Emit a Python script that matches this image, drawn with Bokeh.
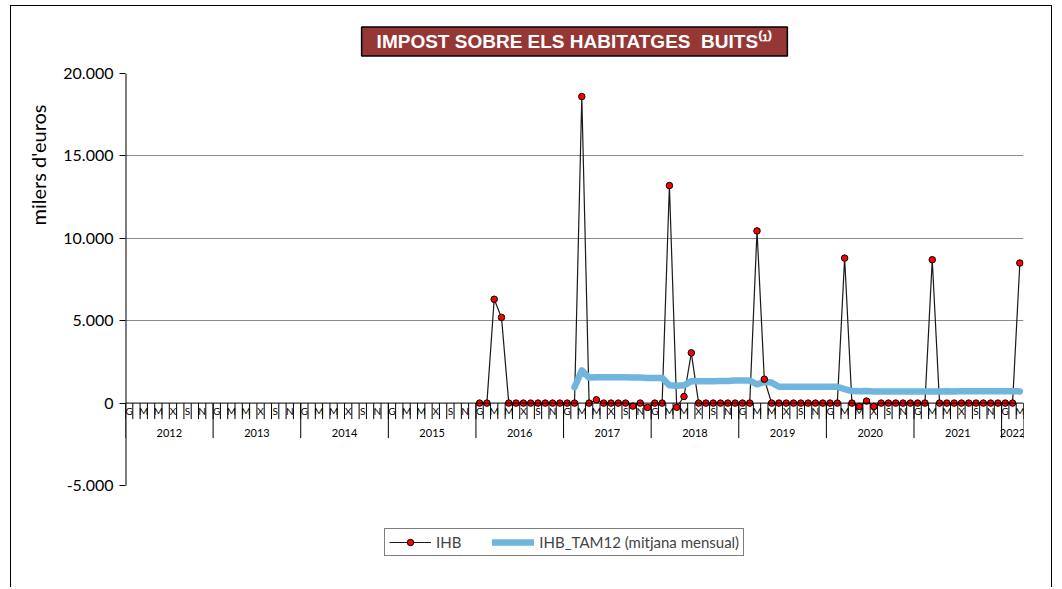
import math
from bokeh.plotting import figure
from bokeh.models import Range1d, FixedTicker, Legend, LegendItem, Span, Title
from bokeh.embed import file_html
from bokeh.resources import INLINE
from bokeh.core.properties import value

# ---------------- data ----------------
years = ["2012", "2013", "2014", "2015", "2016", "2017", "2018", "2019", "2020", "2021", "2022"]
months_last_year = 3                      # the 2022 series ends in March
month_letters = ["G", "M", "M", "X", "S", "N"]   # labels on Jan, Mar, May, Jul, Sep, Nov

ihb_first_month = 48                      # January 2016
ihb = [
    0, 0, 6300, 5200, 0, 0, 0, 0, 0, 0, 0, 0,            # 2016
    0, 0, 18600, 0, 200, 0, 0, 0, 0, -180, 0, -260,      # 2017
    0, 0, 13200, -250, 400, 3050, 0, 0, 0, 0, 0, 0,      # 2018
    0, 0, 10450, 1450, 0, 0, 0, 0, 0, 0, 0, 0,           # 2019
    0, 0, 8800, 0, -200, 120, -200, 0, 0, 0, 0, 0,       # 2020
    0, 0, 8700, 0, 0, 0, 0, 0, 0, 0, 0, 0,               # 2021
    0, 0, 8500,                                           # 2022
]

tam_first_month = 61                      # February 2017
tam12 = [
    958,                                                  # Feb 2017
    1983, 1550, 1567, 1567, 1567, 1567, 1567, 1552, 1552, 1530,   # Mar-Dec 2017
    1530, 1530, 1080, 1059, 1076, 1330, 1330, 1330, 1330, 1345, 1345, 1367,  # 2018
    1367, 1367, 1138, 1279, 1246, 992, 992, 992, 992, 992, 992, 992,        # 2019
    992, 992, 854, 733, 717, 727, 710, 710, 710, 710, 710, 710,             # 2020
    710, 710, 702, 702, 718, 708, 725, 725, 725, 725, 725, 725,             # 2021
    725, 725, 708,                                                          # 2022
]

y_ticks = [-5000, 0, 5000, 10000, 15000, 20000]
y_tick_labels = ["-5.000", "0", "5.000", "10.000", "15.000", "20.000"]
grid_ticks = [5000, 10000, 15000, 20000]
title_text = "IMPOST SOBRE ELS HABITATGES\u00a0 BUITS\u207d\u00b9\u207e"
y_title = "milers d'euros"
legend_labels = ["IHB", "IHB_TAM12 (mitjana mensual)"]

# ---------------- derived positions ----------------
n_months = 12 * (len(years) - 1) + months_last_year
ihb_x = [ihb_first_month + k + 0.5 for k in range(len(ihb))]
tam_x = [tam_first_month + k + 0.5 for k in range(len(tam12))]

px = 25000 / 412.0      # data units per vertical pixel (-5000..20000 spans 412 px)
frame_h = 515
y_bottom = 20000 - frame_h * px

p = figure(width=1042, height=582,
           x_range=Range1d(0, n_months), y_range=Range1d(y_bottom, 20000),
           x_axis_location=None, toolbar_location=None, output_backend="svg",
           min_border_left=114, min_border_right=30, min_border_top=67, min_border_bottom=0)
p.outline_line_color = None
p.background_fill_color = "white"
p.border_fill_color = "white"
p.styles = {"margin-left": "10px", "margin-top": "5px",
            "border-left": "1px solid #000000", "border-top": "1px solid #000000",
            "border-right": "1px solid #000000"}

p.xgrid.visible = False
p.ygrid.ticker = FixedTicker(ticks=grid_ticks)
p.ygrid.grid_line_color = "#8c8c8c"
p.ygrid.grid_line_width = 1

ya = p.yaxis[0]
ya.ticker = FixedTicker(ticks=y_ticks)
ya.major_label_overrides = dict(zip(y_ticks, y_tick_labels))
ya.minor_tick_line_color = None
ya.major_tick_in = 0
ya.major_tick_out = 6
ya.major_label_standoff = 6
ya.axis_line_color = None
ya.major_tick_line_color = "black"
ya.major_label_text_font = "Lato"
ya.major_label_text_font_size = "16px"
ya.major_label_text_color = "black"

# value-axis line only over its range
p.segment(x0=[0], y0=[y_ticks[0]], x1=[0], y1=[y_ticks[-1]], line_color="black", line_width=2)

# category axis drawn at y = 0
p.add_layout(Span(location=0, dimension="width", line_color="black", line_width=1))
bounds = list(range(n_months + 1))
p.segment(x0=bounds, y0=[0] * len(bounds), x1=bounds, y1=[-16 * px] * len(bounds),
          line_color="black", line_width=1)
year_bounds = [12 * k for k in range(len(years))] + [n_months]
p.segment(x0=year_bounds, y0=[0] * len(year_bounds), x1=year_bounds,
          y1=[-35 * px] * len(year_bounds), line_color="black", line_width=1)

lab_x, lab_t = [], []
for m in range(n_months):
    if m % 2 == 0:
        lab_x.append(m + 0.5)
        lab_t.append(month_letters[(m % 12) // 2])
p.text(x=lab_x, y=[-7.5 * px] * len(lab_x), text=lab_t, text_font=value("Lato"),
       text_font_size="10px", text_align="center", text_baseline="middle", text_color="black")

yr_x = []
for k in range(len(years)):
    start = 12 * k
    end = min(12 * (k + 1), n_months)
    yr_x.append((start + end) / 2)
p.text(x=yr_x, y=[-30 * px] * len(yr_x), text=years, text_font=value("Lato"),
       text_font_size="11px", text_align="center", text_baseline="middle", text_color="black")

# series
ihb_line = p.line(ihb_x, ihb, line_color="#1a1a1a", line_width=1.2)
tam_line = p.line(tam_x, tam12, line_color="#6fb5de", line_width=6.5, line_cap="round", line_join="round")
ihb_pts = p.scatter(ihb_x, ihb, size=6.5, fill_color="#ff0000", line_color="black", line_width=1)

# title (boxed)
p.title.text = title_text
p.title.align = "center"
p.title.standoff = 35
p.title.text_font = "Liberation Sans"
p.title.text_font_style = "bold"
p.title.text_font_size = "19px"
p.title.text_color = "white"
p.title.background_fill_color = "#953735"
p.title.border_line_color = "black"
p.title.border_line_width = 1.5
p.title.padding = dict(x=15, y=4)

# y axis title, placed high on the axis like the original
p.add_layout(Title(text=y_title, align="right", offset=31, standoff=22,
                   text_font="Lato", text_font_size="20px", text_font_style="normal",
                   text_color="black"), "left")

legend = Legend(items=[LegendItem(label=legend_labels[0], renderers=[ihb_line, ihb_pts]),
                       LegendItem(label=legend_labels[1], renderers=[tam_line])],
                orientation="horizontal", location=(259, 32),
                border_line_color="black", border_line_width=1,
                padding=4, spacing=31, label_standoff=5, glyph_width=42, glyph_height=16,
                label_text_font="Lato", label_text_font_size="15px", label_height=16,
                margin=0, background_fill_color="white", background_fill_alpha=1)
p.add_layout(legend)

open("out.html", "w").write(file_html(p, INLINE))
